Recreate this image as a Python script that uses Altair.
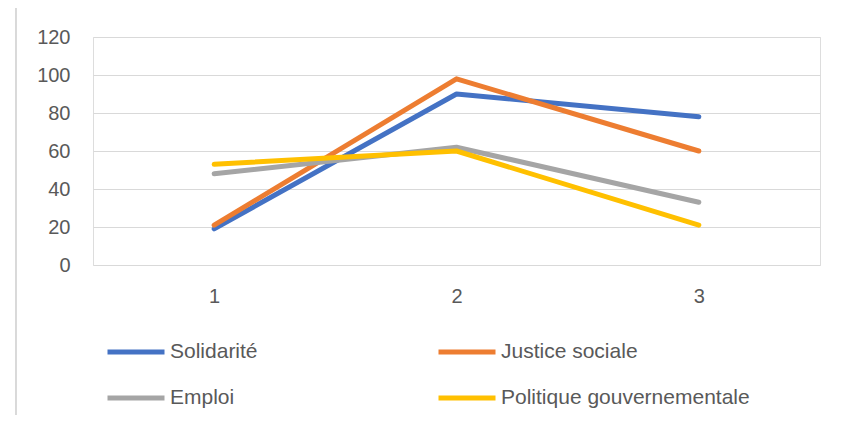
import altair as alt
import pandas as pd

categories = ["1", "2", "3"]
series_names = ["Solidarité", "Justice sociale", "Emploi", "Politique gouvernementale"]
solidarite = [19, 90, 78]
justice = [21, 98, 60]
emploi = [48, 62, 33]
politique = [53, 60, 21]
colors = ["#4472C4", "#ED7D31", "#A5A5A5", "#FFC000"]
y_ticks = [0, 20, 40, 60, 80, 100, 120]

rows = []
for name, vals in zip(series_names, [solidarite, justice, emploi, politique]):
    for c, v in zip(categories, vals):
        rows.append({"cat": c, "serie": name, "val": v})
df = pd.DataFrame(rows)

# legend fills column by column: order so that rows read Solidarité/Justice, Emploi/Politique
legend_order = ["Solidarité", "Emploi", "Justice sociale", "Politique gouvernementale"]
legend_colors = [colors[series_names.index(n)] for n in legend_order]

W, H = 727, 228
FONT = "Liberation Sans"
FS = 20

lines = alt.Chart(df).mark_line(strokeWidth=5, strokeCap="round", strokeJoin="round").encode(
    x=alt.X("cat:N", sort=categories, title=None,
            scale=alt.Scale(type="point", padding=0.5),
            axis=alt.Axis(labelAngle=0, ticks=False, domain=False, grid=False,
                          labelPadding=21, labelFontSize=FS, labelColor="#595959",
                          labelFont=FONT)),
    y=alt.Y("val:Q", title=None, scale=alt.Scale(domain=[0, 120], nice=False),
            axis=alt.Axis(values=y_ticks, ticks=False, domain=False, gridColor="#D9D9D9",
                          gridWidth=1, labelPadding=23, labelFontSize=FS,
                          labelColor="#595959", labelFont=FONT)),
    color=alt.Color("serie:N", sort=legend_order,
                    scale=alt.Scale(domain=legend_order, range=legend_colors),
                    legend=alt.Legend(title=None, orient="none", legendX=12, legendY=284,
                                      columns=2, columnPadding=170, rowPadding=5,
                                      symbolType="stroke", symbolSize=3249,
                                      symbolStrokeWidth=5, labelFontSize=FS + 1,
                                      labelColor="#595959", labelFont=FONT,
                                      labelOffset=3, labelLimit=400)),
    order=alt.Order("cat:N"),
)

frame_left = alt.Chart(df).mark_rule(color="#D9D9D9", strokeWidth=1).encode(
    x=alt.value(-77), y=alt.value(-30), y2=alt.value(H + 150))
frame_top = alt.Chart(df).mark_rule(color="#D9D9D9", strokeWidth=1).encode(
    x=alt.value(-77), x2=alt.value(W + 30), y=alt.value(-30))

chart = alt.layer(frame_left, frame_top, lines).properties(
    width=W, height=H,
    autosize=alt.AutoSizeParams(type="none"),
    padding={"left": 85, "top": 29, "right": 15, "bottom": 150},
).configure_view(stroke=None).configure(background="white")

chart.save("out.html", embed_options={"renderer": "svg", "actions": False})
